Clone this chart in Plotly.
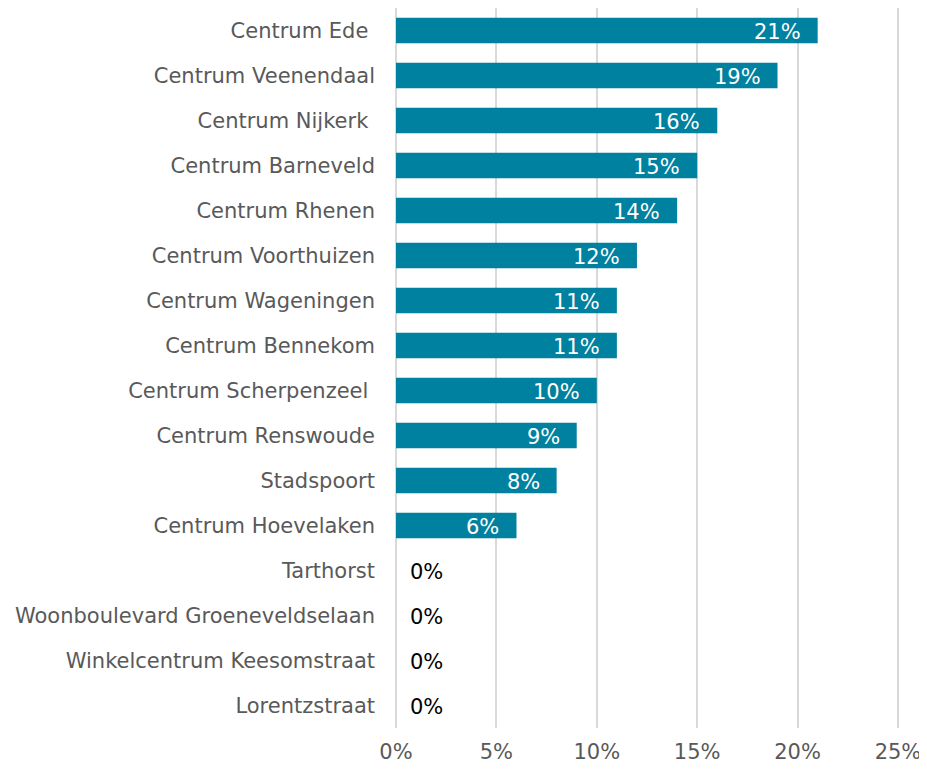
import plotly.graph_objects as go

categories = ["Centrum Ede ", "Centrum Veenendaal", "Centrum Nijkerk ", "Centrum Barneveld",
              "Centrum Rhenen", "Centrum Voorthuizen", "Centrum Wageningen", "Centrum Bennekom",
              "Centrum Scherpenzeel ", "Centrum Renswoude", "Stadspoort", "Centrum Hoevelaken",
              "Tarthorst", "Woonboulevard Groeneveldselaan", "Winkelcentrum Keesomstraat",
              "Lorentzstraat"]
values = [21, 19, 16, 15, 14, 12, 11, 11, 10, 9, 8, 6, 0, 0, 0, 0]
tick_vals = [0, 5, 10, 15, 20, 25]
tick_text = ["0%", "5%", "10%", "15%", "20%", "25%"]

FONT = "Verdana, DejaVu Sans, sans-serif"
FS = 21
BAR = "#00819F"
GRID = "#D9D9D9"

fig = go.Figure(go.Bar(
    y=categories, x=values, orientation="h",
    marker=dict(color=BAR, line=dict(width=0)),
    hoverinfo="skip",
))

annotations = []
for c, v in zip(categories, values):
    if v > 0:
        annotations.append(dict(x=v, y=c, xref="x", yref="y", text=f"{v}%",
                                showarrow=False, xanchor="right", xshift=-15, yshift=-1,
                                font=dict(family=FONT, size=FS, color="white")))
    else:
        annotations.append(dict(x=v, y=c, xref="x", yref="y", text=f"{v}%",
                                showarrow=False, xanchor="left", xshift=12, yshift=-1,
                                font=dict(family=FONT, size=FS, color="black")))

# page body has an 8px margin, so the figure is sized/offset to compensate
fig.update_layout(
    width=919, height=762,
    margin=dict(l=388, r=27, t=0, b=42),
    paper_bgcolor="white", plot_bgcolor="white",
    bargap=0.43,
    showlegend=False,
    font=dict(family=FONT, size=FS, color="#595959"),
    annotations=annotations,
    xaxis=dict(range=[0, 25.1], tickvals=tick_vals, ticktext=tick_text,
               showgrid=True, gridcolor=GRID, gridwidth=1.5,
               zeroline=True, zerolinecolor=GRID, zerolinewidth=1.5,
               showline=False, ticks="", ticklabelstandoff=9, automargin=False,
               tickfont=dict(family=FONT, size=FS, color="#595959"), fixedrange=True),
    yaxis=dict(autorange="reversed", showgrid=False, zeroline=False, showline=False,
               ticks="", ticklabelstandoff=20, automargin=False,
               tickfont=dict(family=FONT, size=FS, color="#595959"), fixedrange=True),
)

fig.write_html("out.html")
